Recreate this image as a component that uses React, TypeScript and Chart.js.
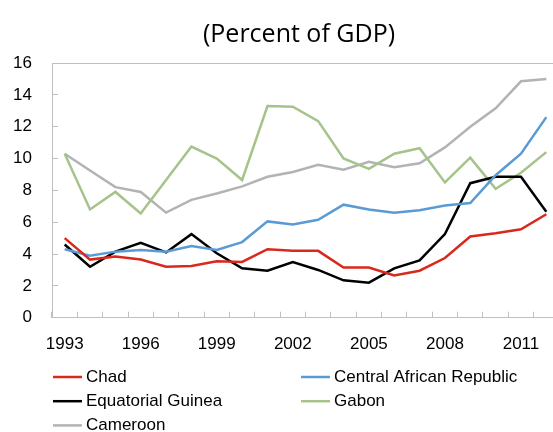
import React, { useEffect, useRef } from "react";
import { Chart, registerables } from "chart.js";

Chart.register(...registerables);

const TITLE = "(Percent of GDP)";
const years = [
  "1993", "1994", "1995", "1996", "1997", "1998", "1999", "2000", "2001", "2002",
  "2003", "2004", "2005", "2006", "2007", "2008", "2009", "2010", "2011", "2012",
];
const chad = [5.0, 3.65, 3.85, 3.65, 3.2, 3.25, 3.55, 3.5, 4.3, 4.2, 4.2, 3.15, 3.15, 2.65, 2.95, 3.75, 5.1, 5.3, 5.55, 6.5];
const car = [4.3, 3.9, 4.15, 4.25, 4.15, 4.5, 4.25, 4.75, 6.05, 5.85, 6.15, 7.1, 6.8, 6.6, 6.75, 7.05, 7.2, 8.95, 10.3, 12.6];
const eqGuinea = [4.6, 3.2, 4.15, 4.7, 4.1, 5.25, 4.05, 3.1, 2.95, 3.5, 3.0, 2.35, 2.2, 3.1, 3.6, 5.25, 8.45, 8.85, 8.85, 6.65];
const gabon = [10.3, 6.8, 7.9, 6.55, 8.65, 10.75, 10.0, 8.65, 13.3, 13.25, 12.35, 10.0, 9.35, 10.3, 10.65, 8.5, 10.05, 8.1, 9.1, 10.4];
const cameroon = [10.3, 9.25, 8.2, 7.9, 6.6, 7.4, 7.8, 8.25, 8.85, 9.15, 9.6, 9.3, 9.8, 9.45, 9.7, 10.7, 12.0, 13.15, 14.85, 15.0];

const seriesNames = ["Chad", "Central African Republic", "Equatorial Guinea", "Gabon", "Cameroon"];
const seriesValues = [chad, car, eqGuinea, gabon, cameroon];
const seriesColors = ["#D9291C", "#5B9BD5", "#000000", "#A5C38A", "#B3B3B3"];

const FONT = '"Liberation Sans", Arial, sans-serif';
const AXIS_GRAY = "#BFBFBF";

const overlayPlugin = {
  id: "overlay",
  afterDraw(chart: any) {
    const ctx = chart.ctx;
    ctx.save();
    // title
    ctx.font = '25px "Open Sans", sans-serif';
    ctx.fillStyle = "#000";
    ctx.textAlign = "center";
    ctx.textBaseline = "alphabetic";
    ctx.fillText(TITLE, 299, 42);
    // legend in two columns
    ctx.font = "17px " + FONT;
    ctx.textAlign = "left";
    ctx.textBaseline = "middle";
    chart.data.datasets.forEach((ds: any, i: number) => {
      const col = i % 2;
      const row = Math.floor(i / 2);
      const x0 = col === 0 ? 53 : 301;
      const y = 377 + row * 24.2;
      ctx.strokeStyle = ds.borderColor;
      ctx.lineWidth = 2.5;
      ctx.beginPath();
      ctx.moveTo(x0, y);
      ctx.lineTo(x0 + 29, y);
      ctx.stroke();
      ctx.fillStyle = "#000";
      ctx.fillText(ds.label, x0 + 33, y);
    });
    ctx.restore();
  },
};

export default function App() {
  const ref = useRef<HTMLCanvasElement | null>(null);

  useEffect(() => {
    if (!ref.current) return;
    const chart = new Chart(ref.current, {
      type: "line",
      data: {
        labels: years,
        datasets: seriesNames.map((name, i) => ({
          label: name,
          data: seriesValues[i],
          borderColor: seriesColors[i],
          backgroundColor: seriesColors[i],
          borderWidth: 2.5,
          pointRadius: 0,
          tension: 0,
          fill: false,
        })),
      },
      options: {
        animation: false,
        responsive: false,
        devicePixelRatio: 1,
        layout: { padding: { left: 0, right: 16, top: 63, bottom: 0 } },
        plugins: {
          legend: { display: false },
          title: { display: false },
          tooltip: { enabled: false },
        },
        scales: {
          x: {
            type: "category",
            offset: true,
            afterFit(scale: any) {
              scale.height = 114.3;
            },
            grid: {
              offset: true,
              drawOnChartArea: false,
              drawTicks: true,
              tickLength: -6,
              tickColor: AXIS_GRAY,
              color: AXIS_GRAY,
            },
            border: { color: AXIS_GRAY, width: 1 },
            ticks: {
              autoSkip: false,
              maxRotation: 0,
              minRotation: 0,
              padding: 22,
              color: "#000",
              font: { family: FONT, size: 17 },
              callback: (_v: any, i: number) => (i % 3 === 0 ? years[i] : ""),
            },
          },
          y: {
            min: 0,
            max: 16,
            afterFit(scale: any) {
              scale.width = 52;
            },
            grid: {
              drawOnChartArea: true,
              drawTicks: true,
              tickLength: -6,
              tickColor: AXIS_GRAY,
              color: (c: any) => (c.tick && c.tick.value === 16 ? AXIS_GRAY : "rgba(0,0,0,0)"),
            },
            border: { color: AXIS_GRAY, width: 1 },
            ticks: {
              stepSize: 2,
              padding: 26,
              color: "#000",
              font: { family: FONT, size: 17 },
            },
          },
        },
      },
      plugins: [overlayPlugin],
    });
    return () => chart.destroy();
  }, []);

  return (
    <div
      style={{
        position: "absolute",
        left: 0,
        top: 0,
        width: 553,
        height: 432,
        overflow: "hidden",
        background: "#fff",
      }}
    >
      <canvas ref={ref} width={575} height={432} style={{ display: "block" }} />
    </div>
  );
}
